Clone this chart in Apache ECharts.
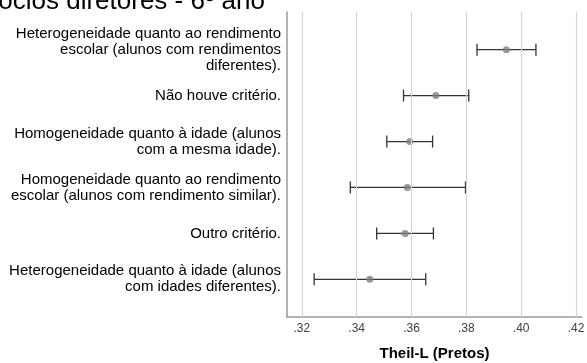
<!DOCTYPE html>
<html>
<head>
<meta charset="utf-8">
<script src="https://cdn.jsdelivr.net/npm/echarts@6/dist/echarts.min.js"></script>
<style>
  html, body { margin: 0; padding: 0; background: #fff; }
  #chart { width: 587px; height: 363px; }
</style>
</head>
<body>
<div id="chart"></div>
<script>
// Criteria, from top to bottom
const categories = [
  'Heterogeneidade quanto ao rendimento\nescolar (alunos com rendimentos\ndiferentes).',
  'Não houve critério.',
  'Homogeneidade quanto à idade (alunos\ncom a mesma idade).',
  'Homogeneidade quanto ao rendimento\nescolar (alunos com rendimento similar).',
  'Outro critério.',
  'Heterogeneidade quanto à idade (alunos\ncom idades diferentes).'
];
// Theil-L means and interval bounds
const means = [0.3946, 0.3689, 0.3594, 0.3585, 0.3577, 0.3448];
const lower = [0.3839, 0.3571, 0.3510, 0.3377, 0.3473, 0.3245];
const upper = [0.4054, 0.3809, 0.3677, 0.3797, 0.3680, 0.3652];
const xTicks = [0.32, 0.34, 0.36, 0.38, 0.40, 0.42];

const FONT = '"Liberation Sans", Arial, sans-serif';

const chart = echarts.init(document.getElementById('chart'), null, { renderer: 'canvas' });

const rows = categories.map((c, i) => i);

chart.setOption({
  animation: false,
  backgroundColor: '#fff',
  textStyle: { fontFamily: FONT },
  graphic: [{
    type: 'text',
    style: {
      x: 265, y: 15,
      text: 'Respostas dos sócios diretores - 6º ano',
      align: 'right',
      verticalAlign: 'bottom',
      fontSize: 26,
      fontFamily: FONT,
      fill: '#000'
    }
  }],
  grid: { left: 287, top: 12, width: 295, height: 305, containLabel: false, outerBoundsMode: 'none' },
  xAxis: {
    type: 'value',
    min: 0.3146,
    max: 0.4222,
    name: 'Theil-L (Pretos)',
    nameLocation: 'middle',
    nameGap: 29,
    nameTextStyle: { fontSize: 15, fontWeight: 'bold', color: '#000', fontFamily: FONT },
    axisLine: { show: true, onZero: false, lineStyle: { color: '#9a9a9a', width: 1.5 } },
    axisTick: { show: false },
    splitLine: { show: false },
    axisLabel: {
      customValues: xTicks,
      formatter: v => v.toFixed(2).replace(/^0/, ''),
      color: '#404040',
      fontSize: 12,
      margin: 6,
      fontFamily: FONT
    }
  },
  yAxis: {
    type: 'value',
    inverse: true,
    min: -0.82,
    max: 5.82,
    axisLine: { show: true, onZero: false, lineStyle: { color: '#9a9a9a', width: 1.5 } },
    axisTick: { show: false },
    splitLine: { show: false },
    axisLabel: {
      customValues: rows,
      formatter: v => categories[Math.round(v)],
      color: '#000',
      fontSize: 15,
      lineHeight: 16,
      margin: 6,
      align: 'right',
      fontFamily: FONT
    }
  },
  series: [
    {
      // vertical reference lines at each tick
      type: 'line',
      data: [],
      silent: true,
      markLine: {
        silent: true,
        symbol: 'none',
        label: { show: false },
        lineStyle: { color: '#d4d4d4', width: 1.2, type: 'solid' },
        data: xTicks.map(v => ({ xAxis: v }))
      },
      z: 1
    },
    {
      type: 'custom',
      z: 3,
      data: rows.map(i => [lower[i], upper[i], i]),
      renderItem: (params, api) => {
        const lo = api.coord([api.value(0), api.value(2)]);
        const hi = api.coord([api.value(1), api.value(2)]);
        const cap = 6;
        const style = { stroke: '#333', lineWidth: 1.3 };
        return {
          type: 'group',
          children: [
            { type: 'line', shape: { x1: lo[0], y1: lo[1], x2: hi[0], y2: hi[1] }, style },
            { type: 'line', shape: { x1: lo[0], y1: lo[1] - cap, x2: lo[0], y2: lo[1] + cap }, style },
            { type: 'line', shape: { x1: hi[0], y1: hi[1] - cap, x2: hi[0], y2: hi[1] + cap }, style }
          ]
        };
      }
    },
    {
      type: 'scatter',
      z: 4,
      symbol: 'circle',
      symbolSize: 7,
      itemStyle: { color: '#7f7f7f' },
      data: rows.map(i => [means[i], i])
    }
  ]
});
</script>
</body>
</html>
